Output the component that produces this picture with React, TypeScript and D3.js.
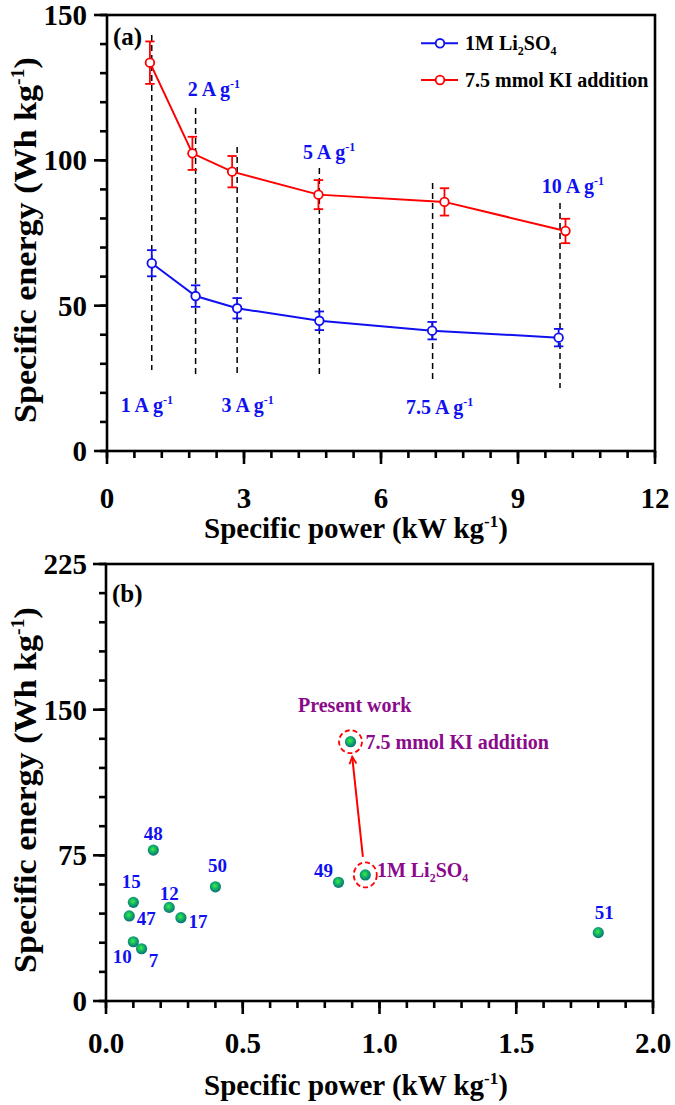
import React from "react";
import * as d3 from "d3";

// ---------- Panel (a) data ----------
const currents = ["1", "2", "3", "5", "7.5", "10"];
const powerLi = [0.98, 1.94, 2.85, 4.65, 7.12, 9.89];
const energyLi = [64.6, 53.3, 49.1, 44.8, 41.4, 39.0];
const errLi = [4.5, 3.7, 3.5, 3.2, 3.0, 3.0];
const powerKI = [0.94, 1.87, 2.74, 4.63, 7.39, 10.04];
const energyKI = [133.6, 102.4, 96.1, 88.2, 85.7, 75.7];
const errKI = [7.3, 5.7, 5.4, 5.0, 4.7, 4.2];
const guideX = [0.98, 1.94, 2.85, 4.65, 7.13, 9.92];
const guideTop = [143.1, 118, 104.6, 97.4, 92.2, 85.3];
const guideBottom = [27.9, 26.2, 26.2, 25.6, 24.4, 21.7];
const currentLabelX = [0.3, 1.77, 2.51, 4.29, 6.55, 9.52];
const currentLabelY = [13.4, 122.2, 13.4, 100.5, 12.9, 88.8];
const xTicksA = [0, 3, 6, 9, 12];
const yTicksA = [0, 50, 100, 150];
const legendLabels = ["1M Li2SO4", "7.5 mmol KI addition"];

// ---------- Panel (b) data ----------
const refIds = ["48", "15", "47", "12", "17", "50", "10", "7", "49", "51"];
const refPower = [0.173, 0.1, 0.085, 0.231, 0.274, 0.4, 0.1, 0.13, 0.85, 1.8];
const refEnergy = [77.7, 50.8, 43.8, 48.2, 42.9, 58.8, 30.5, 26.9, 61.1, 35.2];
const refLabelDx = [0, -2, 17, 0, 17, 2, -11, 12, -15, 6];
const refLabelDy = [-17, -21, 3, -14, 4, -21, 15, 12, -12, -20];
const presentNames = ["1M Li2SO4", "7.5 mmol KI addition"];
const presentPower = [0.948, 0.894];
const presentEnergy = [64.9, 133.5];
const xTicksB = [0, 0.5, 1.0, 1.5, 2.0];
const yTicksB = [0, 75, 150, 225];

const FONT = "Liberation Serif, Times New Roman, serif";
const BLUE = "#1010f0";
const RED = "#ff0000";
const PURPLE = "#8b0a8b";
const AX = 2.6;

// scales
const xA = d3.scaleLinear().domain([0, 12]).range([107, 655]);
const yA = d3.scaleLinear().domain([0, 150]).range([451, 15]);
const xB = d3.scaleLinear().domain([0, 2]).range([106, 653]);
const yB = d3.scaleLinear().domain([0, 225]).range([1001, 564]);

function Axes({ x, y, xMajor, xMinorStep, yMajor, yMinorStep, xFmt, tickLabelY, titleY, yTitleCenter }: any) {
  const [x0, x1] = x.range();
  const [y0, y1] = y.range();
  const [dx0, dx1] = x.domain();
  const [dy0, dy1] = y.domain();
  const xMinor = d3.range(dx0, dx1 + 1e-9, xMinorStep);
  const yMinor = d3.range(dy0, dy1 + 1e-9, yMinorStep);
  return (
    <g>
      <rect x={x0} y={y1} width={x1 - x0} height={y0 - y1} fill="none" stroke="#000" strokeWidth={AX} />
      {xMinor.map((v: number, i: number) => (
        <line key={"xm" + i} x1={x(v)} x2={x(v)} y1={y0} y2={y0 + 7} stroke="#000" strokeWidth={AX} />
      ))}
      {xMajor.map((v: number, i: number) => (
        <g key={"xM" + i}>
          <line x1={x(v)} x2={x(v)} y1={y0} y2={y0 + 13} stroke="#000" strokeWidth={AX} />
          <text x={x(v)} y={tickLabelY} textAnchor="middle" fontFamily={FONT} fontWeight="bold" fontSize={29}>
            {xFmt(v)}
          </text>
        </g>
      ))}
      {yMinor.map((v: number, i: number) => (
        <line key={"ym" + i} x1={x0 - 7} x2={x0} y1={y(v)} y2={y(v)} stroke="#000" strokeWidth={AX} />
      ))}
      {yMajor.map((v: number, i: number) => (
        <g key={"yM" + i}>
          <line x1={x0 - 13} x2={x0} y1={y(v)} y2={y(v)} stroke="#000" strokeWidth={AX} />
          <text x={87} y={y(v) + 10} textAnchor="end" fontFamily={FONT} fontWeight="bold" fontSize={29}>
            {v}
          </text>
        </g>
      ))}
      <text x={356} y={titleY} textAnchor="middle" fontFamily={FONT} fontWeight="bold" fontSize={29}>
        Specific power (kW kg<tspan dy={-11} fontSize={17}>-1</tspan>
        <tspan dy={11}>)</tspan>
      </text>
      <text
        transform={`translate(36,${yTitleCenter}) rotate(-90) scale(1.1,1)`}
        textAnchor="middle"
        fontFamily={FONT}
        fontWeight="bold"
        fontSize={31}
      >
        Specific energy (Wh kg<tspan dy={-12} fontSize={18}>-1</tspan>
        <tspan dy={12}>)</tspan>
      </text>
    </g>
  );
}

function LiSO4({ fontSize }: { fontSize: number }) {
  const s = Math.round(fontSize * 0.62);
  return (
    <>
      1M Li<tspan dy={5} fontSize={s}>2</tspan>
      <tspan dy={-5}>SO</tspan>
      <tspan dy={5} fontSize={s}>4</tspan>
    </>
  );
}

function Series({ px, py, err, color }: any) {
  const line = d3
    .line<number>()
    .x((_, i) => xA(px[i]))
    .y((d) => yA(d));
  return (
    <g>
      <path d={line(py) || ""} fill="none" stroke={color} strokeWidth={2} />
      {py.map((v: number, i: number) => {
        const cx = xA(px[i]);
        const top = yA(v + err[i]);
        const bot = yA(v - err[i]);
        return (
          <g key={i}>
            <line x1={cx} x2={cx} y1={top} y2={bot} stroke={color} strokeWidth={1.8} />
            <line x1={cx - 4.7} x2={cx + 4.7} y1={top} y2={top} stroke={color} strokeWidth={1.8} />
            <line x1={cx - 4.7} x2={cx + 4.7} y1={bot} y2={bot} stroke={color} strokeWidth={1.8} />
            <circle cx={cx} cy={yA(v)} r={4.3} fill="#fff" stroke={color} strokeWidth={1.8} />
          </g>
        );
      })}
    </g>
  );
}

export default function App() {
  const lblFont = 20;
  const ax1 = xB(presentPower[0]) - 2.4;
  const ay1 = yB(presentEnergy[0]) - 18;
  const ax2 = xB(presentPower[1]) + 1.7;
  const ay2 = yB(presentEnergy[1]) + 15;
  const ang = Math.atan2(ay2 - ay1, ax2 - ax1);
  const head = 8;
  const h1 = [ax2 - head * Math.cos(ang - 0.45), ay2 - head * Math.sin(ang - 0.45)];
  const h2 = [ax2 - head * Math.cos(ang + 0.45), ay2 - head * Math.sin(ang + 0.45)];

  return (
    <svg width={675} height={1105} style={{ position: "absolute", left: 0, top: 0, display: "block", background: "#fff" }}>
      <defs>
        <radialGradient id="sphere" cx="45%" cy="42%" r="60%">
          <stop offset="0%" stopColor="#3ef03a" />
          <stop offset="45%" stopColor="#14b468" />
          <stop offset="100%" stopColor="#086a78" />
        </radialGradient>
      </defs>

      {/* ================= Panel (a) ================= */}
      {guideX.map((gx, i) => (
        <line
          key={"g" + i}
          x1={xA(gx)}
          x2={xA(gx)}
          y1={yA(guideTop[i])}
          y2={yA(guideBottom[i])}
          stroke="#000"
          strokeWidth={1.5}
          strokeDasharray="6,4"
        />
      ))}
      {currents.map((c, i) => (
        <text
          key={"c" + i}
          x={xA(currentLabelX[i])}
          y={yA(currentLabelY[i])}
          fill={BLUE}
          fontFamily={FONT}
          fontWeight="bold"
          fontSize={lblFont}
        >
          {c} A g<tspan dy={-8} fontSize={12}>-1</tspan>
        </text>
      ))}
      <Series px={powerLi} py={energyLi} err={errLi} color={BLUE} />
      <Series px={powerKI} py={energyKI} err={errKI} color={RED} />
      <Axes
        x={xA}
        y={yA}
        xMajor={xTicksA}
        xMinorStep={0.6}
        yMajor={yTicksA}
        yMinorStep={10}
        xFmt={(v: number) => String(v)}
        tickLabelY={508}
        titleY={538}
        yTitleCenter={240}
      />
      <text x={113} y={45} fontFamily={FONT} fontWeight="bold" fontSize={25}>
        (a)
      </text>
      {legendLabels.map((lab, i) => {
        const ly = 43.3 + i * 36.7;
        const col = i === 0 ? BLUE : RED;
        return (
          <g key={"lg" + i}>
            <line x1={421} x2={458} y1={ly} y2={ly} stroke={col} strokeWidth={2} />
            <circle cx={440} cy={ly} r={4.3} fill="#fff" stroke={col} strokeWidth={1.8} />
            <text x={465} y={ly + 7} fontFamily={FONT} fontWeight="bold" fontSize={20}>
              {i === 0 ? <LiSO4 fontSize={20} /> : lab}
            </text>
          </g>
        );
      })}

      {/* ================= Panel (b) ================= */}
      <Axes
        x={xB}
        y={yB}
        xMajor={xTicksB}
        xMinorStep={0.1}
        yMajor={yTicksB}
        yMinorStep={15}
        xFmt={(v: number) => v.toFixed(1)}
        tickLabelY={1053}
        titleY={1095}
        yTitleCenter={790}
      />
      <text x={112} y={602} fontFamily={FONT} fontWeight="bold" fontSize={25}>
        (b)
      </text>
      {refIds.map((id, i) => {
        const cx = xB(refPower[i]);
        const cy = yB(refEnergy[i]);
        return (
          <g key={"r" + i}>
            <circle cx={cx} cy={cy} r={5.6} fill="url(#sphere)" />
            <text
              x={cx + refLabelDx[i]}
              y={cy + refLabelDy[i] + 6.5}
              textAnchor="middle"
              fill={BLUE}
              fontFamily={FONT}
              fontWeight="bold"
              fontSize={19}
            >
              {id}
            </text>
          </g>
        );
      })}
      {presentNames.map((nm, i) => {
        const cx = xB(presentPower[i]);
        const cy = yB(presentEnergy[i]);
        return (
          <g key={"p" + i}>
            <ellipse
              cx={cx}
              cy={cy}
              rx={11.5}
              ry={i === 0 ? 12.5 : 11.5}
              fill="none"
              stroke={RED}
              strokeWidth={1.8}
              strokeDasharray="5,3"
            />
            <circle cx={cx} cy={cy} r={5.6} fill="url(#sphere)" />
            <text
              x={cx + (i === 0 ? 11.6 : 15)}
              y={cy + (i === 0 ? 2 : 7)}
              fill={PURPLE}
              fontFamily={FONT}
              fontWeight="bold"
              fontSize={20}
            >
              {i === 0 ? <LiSO4 fontSize={20} /> : nm}
            </text>
          </g>
        );
      })}
      <text x={298} y={712} fill={PURPLE} fontFamily={FONT} fontWeight="bold" fontSize={20}>
        Present work
      </text>
      <line x1={ax1} y1={ay1} x2={ax2} y2={ay2} stroke={RED} strokeWidth={2} />
      <polyline
        points={`${h1[0]},${h1[1]} ${ax2},${ay2} ${h2[0]},${h2[1]}`}
        fill="none"
        stroke={RED}
        strokeWidth={1.8}
      />
    </svg>
  );
}
